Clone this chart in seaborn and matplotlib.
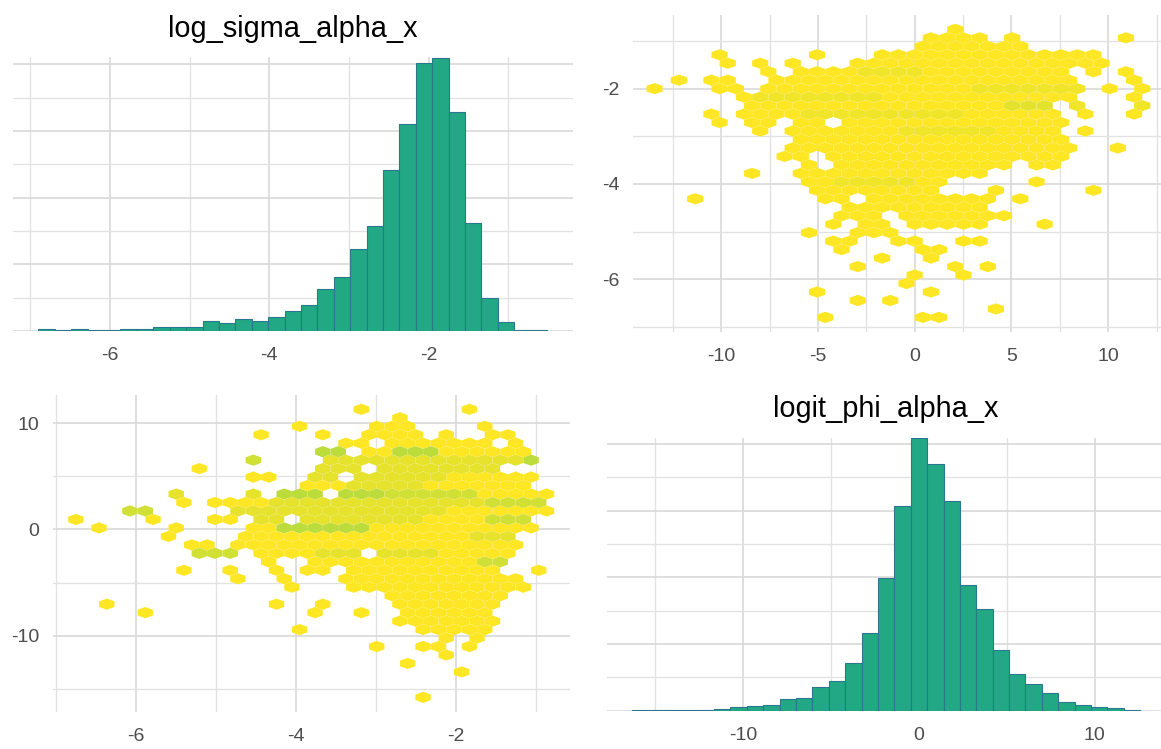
import numpy as np
import pandas as pd
import matplotlib
matplotlib.use("Agg")
import matplotlib.pyplot as plt
import seaborn as sns
from matplotlib.colors import LinearSegmentedColormap
from matplotlib.ticker import FixedLocator, NullFormatter

# ---------------- data ----------------
# histogram of log_sigma_alpha_x : 31 bins
sigma_counts = [6, 2, 7, 3, 4, 7, 5, 13, 11, 11, 30, 23, 37, 30, 43, 61, 77, 125,
                161, 245, 316, 482, 622, 805, 820, 657, 325, 100, 27, 4, 2]
sigma_bin_start = -6.898
sigma_bin_width = 0.206

# histogram of logit_phi_alpha_x : 31 bins
phi_counts = [2, 1, 1, 3, 3, 6, 10, 14, 18, 36, 39, 72, 90, 144, 234, 399, 614,
              819, 740, 629, 377, 304, 183, 111, 81, 53, 25, 16, 10, 8, 1]
phi_bin_start = -16.33
phi_bin_width = 0.933

# hex cells, top-right panel (x = logit_phi, y = log_sigma)
# row index -> list of (first half-column, last half-column, fill level)
tr_rows = {
    34: [(5, 5, 1)],
    33: [(2, 8, 1), (12, 12, 1), (26, 26, 1)],
    32: [(1, 13, 1)],
    31: [(-24, -24, 1), (-12, -12, 1), (-4, 14, 1), (16, 22, 1)],
    30: [(-23, -23, 1), (-19, -19, 1), (-15, -15, 1), (-7, 23, 1)],
    29: [(-18, -18, 1), (-14, -8, 1), (-6, 0, 2), (2, 18, 1), (22, 22, 1), (26, 26, 1)],
    28: [(-29, -29, 1), (-25, -25, 1), (-23, -23, 1), (-17, 19, 1), (27, 27, 1)],
    27: [(-32, -32, 1), (-24, -24, 1), (-22, -22, 1), (-18, 6, 1), (8, 20, 2),
         (24, 24, 1), (28, 28, 1)],
    26: [(-21, -21, 1), (-19, -5, 2), (-3, 19, 1), (27, 27, 1)],
    25: [(-20, 10, 1), (12, 16, 3), (20, 20, 2), (28, 28, 2)],
    24: [(-25, -25, 1), (-21, -19, 1), (-17, -15, 1), (-13, 5, 2), (7, 17, 1),
         (21, 21, 1), (27, 27, 1)],
    23: [(-24, -24, 1), (-20, -18, 1), (-14, -12, 1), (-8, 18, 1)],
    22: [(-19, -19, 1), (-15, -3, 1), (-1, 9, 2), (11, 17, 1), (21, 21, 1)],
    21: [(-14, 18, 1)],
    20: [(-15, 19, 1), (25, 25, 1)],
    19: [(-16, -14, 1), (-10, 18, 1)],
    18: [(-13, -13, 1), (-9, 11, 1), (15, 17, 1)],
    17: [(-20, -20, 1), (-14, 8, 1)],
    16: [(-13, -11, 1), (-9, -1, 2), (1, 3, 1), (15, 15, 1)],
    15: [(-12, 2, 1), (10, 10, 1), (22, 22, 1)],
    14: [(-27, -27, 1), (-11, -9, 1), (-5, 9, 1), (13, 13, 1)],
    13: [(-8, 8, 1)],
    12: [(-9, -5, 1), (-1, 11, 1)],
    11: [(-10, -10, 1), (-6, -4, 1), (0, 8, 1), (16, 16, 1)],
    10: [(-13, -13, 1), (-7, -3, 1)],
    9: [(-10, -8, 1), (-2, 0, 1), (6, 8, 1)],
    8: [(-9, -9, 1), (1, 3, 1)],
    7: [(-4, -4, 1), (2, 2, 1)],
    6: [(-7, -7, 1), (5, 5, 1), (9, 9, 1)],
    5: [(0, 0, 1), (6, 6, 1)],
    4: [(-1, -1, 1)],
    3: [(-12, -12, 1), (2, 2, 1)],
    2: [(-7, -7, 1), (-3, -3, 1)],
    1: [(10, 10, 1)],
    0: [(-11, -11, 1), (1, 1, 1), (3, 3, 1)],
}

# hex cells, bottom-left panel (x = log_sigma, y = logit_phi)
bl_rows = {
    14: [(34, 34, 1), (48, 48, 1)],
    13: [(39, 39, 1)],
    12: [(26, 26, 1), (36, 40, 1), (50, 50, 1)],
    11: [(21, 21, 1), (29, 29, 1), (35, 41, 1), (45, 45, 1), (51, 53, 1)],
    10: [(32, 34, 1), (38, 50, 1), (54, 54, 1)],
    9: [(29, 31, 4), (35, 37, 1), (39, 43, 4), (45, 55, 1)],
    8: [(20, 20, 3), (30, 54, 2), (56, 56, 4)],
    7: [(13, 13, 1), (29, 33, 2), (37, 51, 2)],
    6: [(20, 22, 1), (28, 30, 2), (34, 44, 2), (46, 56, 1)],
    5: [(27, 31, 1), (33, 41, 2), (43, 55, 1)],
    4: [(10, 10, 2), (20, 20, 2), (24, 28, 4), (32, 36, 4), (38, 48, 3), (50, 56, 1), (58, 58, 1)],
    3: [(11, 11, 1), (15, 21, 1), (23, 49, 2), (51, 57, 3)],
    2: [(4, 6, 3), (18, 44, 2), (46, 58, 1)],
    1: [(-3, -3, 1), (7, 7, 1), (15, 17, 1), (21, 23, 2), (27, 41, 2), (43, 49, 1), (51, 55, 3)],
    0: [(0, 0, 1), (10, 10, 1), (20, 22, 1), (24, 34, 4), (36, 56, 1)],
    -1: [(9, 9, 1), (19, 47, 1), (49, 53, 2)],
    -2: [(12, 14, 1), (18, 54, 1)],
    -3: [(13, 17, 3), (21, 27, 1), (29, 33, 2), (37, 43, 2), (45, 53, 1)],
    -4: [(22, 22, 1), (28, 48, 1), (50, 52, 3)],
    -5: [(11, 11, 1), (17, 17, 1), (23, 23, 1), (27, 29, 1), (33, 51, 1), (57, 57, 1)],
    -6: [(18, 18, 1), (24, 24, 1), (32, 54, 1)],
    -7: [(25, 25, 1), (33, 55, 1)],
    -8: [(38, 52, 1)],
    -9: [(1, 1, 1), (23, 23, 1), (29, 29, 1), (39, 51, 1)],
    -10: [(6, 6, 1), (28, 28, 1), (34, 34, 1), (40, 50, 1)],
    -11: [(39, 51, 1)],
    -12: [(26, 26, 1), (42, 42, 1), (44, 50, 1)],
    -13: [(45, 45, 1), (49, 49, 1)],
    -14: [(36, 36, 1), (42, 44, 1), (48, 48, 1)],
    -15: [(45, 45, 1)],
    -16: [(40, 40, 1)],
    -17: [(47, 47, 1)],
    -20: [(42, 42, 1)],
}

# hex lattice geometry (half-column step, row step)
tr_x0, tr_dx, tr_y0, tr_dy = 0.0, 0.42, -6.80, 0.177778
bl_x0, bl_dx, bl_y0, bl_dy = -6.46, 0.0965, 0.145, 0.7963

# ---------------- style ----------------
sns.set_theme(style="white")
plt.rcParams["font.family"] = ["Liberation Sans", "DejaVu Sans"]
plt.rcParams["axes.unicode_minus"] = False

W, H = 1161, 749
fig = plt.figure(figsize=(W / 100, H / 100), dpi=100)
fig.patch.set_facecolor("white")

TICK_COLOR = "#4D4D4D"
MAJ_COLOR, MIN_COLOR = "#D9D9D9", "#E2E2E2"
HIST_FILL, HIST_EDGE = "#22A884", "#2A788E"
hex_cmap = LinearSegmentedColormap.from_list("hexfill", ["#FDE725", "#7AD151"])
HEX_SEAM = (1.0, 1.0, 1.0, 0.12)


def px_axes(left, top, right, bottom):
    return fig.add_axes([left / W, 1 - bottom / H, (right - left) / W, (bottom - top) / H])


def style_axes(ax, xmaj, xmin, ymaj, ymin, ylabels=True):
    ax.set_facecolor("white")
    for s in ax.spines.values():
        s.set_visible(False)
    ax.xaxis.set_major_locator(FixedLocator(xmaj))
    ax.xaxis.set_minor_locator(FixedLocator(xmin))
    ax.yaxis.set_major_locator(FixedLocator(ymaj))
    ax.yaxis.set_minor_locator(FixedLocator(ymin))
    ax.set_xticklabels([f"{v:g}" for v in xmaj])
    if ylabels:
        ax.set_yticklabels([f"{v:g}" for v in ymaj])
    else:
        ax.yaxis.set_major_formatter(NullFormatter())
    ax.xaxis.set_minor_formatter(NullFormatter())
    ax.yaxis.set_minor_formatter(NullFormatter())
    ax.grid(True, which="major", color=MAJ_COLOR, linewidth=1.2)
    ax.grid(True, which="minor", color=MIN_COLOR, linewidth=0.95)
    ax.set_axisbelow(True)
    ax.tick_params(axis="both", which="both", length=0, labelsize=14, labelcolor=TICK_COLOR)
    ax.tick_params(axis="x", pad=11.5)
    ax.tick_params(axis="y", pad=9.5)
    ax.set_xlabel("")
    ax.set_ylabel("")


def expand_cells(rows, x0, dx, y0, dy):
    xs, ys, lv = [], [], []
    for r, segs in rows.items():
        for c0, c1, lev in segs:
            for c in range(c0, c1 + 1, 2):
                xs.append(x0 + c * dx)
                ys.append(y0 + r * dy)
                lv.append(lev)
    return np.array(xs), np.array(ys), np.array(lv, dtype=float)


def draw_hist(ax, counts, start, width):
    n = len(counts)
    edges = [start + width * i for i in range(n + 1)]
    centers = [0.5 * (edges[i] + edges[i + 1]) for i in range(n)]
    df = pd.DataFrame({"value": centers, "count": [float(c) for c in counts]})
    sns.histplot(data=df, x="value", weights="count", bins=edges, ax=ax, color=HIST_FILL,
                 edgecolor=HIST_EDGE, linewidth=0.8, alpha=1.0, zorder=2)


# ---------------- top-left: histogram log_sigma ----------------
ax_tl = px_axes(13, 57, 572.5, 331)
draw_hist(ax_tl, sigma_counts, sigma_bin_start, sigma_bin_width)
style_axes(ax_tl, [-6, -4, -2], [-7, -5, -3, -1], [0, 200, 400, 600, 800],
           [100, 300, 500, 700], ylabels=False)
ax_tl.set_xlim(-7.217, -0.193)
ax_tl.set_ylim(0, 822)
ax_tl.set_title("log_sigma_alpha_x", fontsize=20.8, color="black", pad=14.6)

# ---------------- top-right: hex logit_phi vs log_sigma ----------------
ax_tr = px_axes(632.7, 15, 1166.6, 331.7)
x, y, lv = expand_cells(tr_rows, tr_x0, tr_dx, tr_y0, tr_dy)
sx, sy = 2 * tr_dx, 2 * tr_dy
xmin_e = tr_x0 + tr_dx - 18 * sx
ymin_e = tr_y0 - sy
ax_tr.hexbin(x, y, C=lv, reduce_C_function=np.max, gridsize=(33, 19),
             extent=(xmin_e, xmin_e + 33 * sx, ymin_e, ymin_e + 19 * sy),
             cmap=hex_cmap, vmin=1, vmax=11, linewidths=0.25, edgecolors=HEX_SEAM, zorder=2)
style_axes(ax_tr, [-10, -5, 0, 5, 10], [-12.5, -7.5, -2.5, 2.5, 7.5, 12.5],
           [-6, -4, -2], [-7, -5, -3, -1])
ax_tr.set_xlim(-14.57, 13.02)
ax_tr.set_ylim(-7.10, -0.454)

# ---------------- bottom-left: hex log_sigma vs logit_phi ----------------
ax_bl = px_axes(52.7, 395, 570, 711.7)
x, y, lv = expand_cells(bl_rows, bl_x0, bl_dx, bl_y0, bl_dy)
sx, sy = 2 * bl_dx, 2 * bl_dy
xmin_e = bl_x0 - 2 * sx
ymin_e = bl_y0 - 22 * bl_dy
ax_bl.hexbin(x, y, C=lv, reduce_C_function=np.max, gridsize=(32, 19),
             extent=(xmin_e, xmin_e + 32 * sx, ymin_e, ymin_e + 19 * sy),
             cmap=hex_cmap, vmin=1, vmax=7, linewidths=0.25, edgecolors=HEX_SEAM, zorder=2)
style_axes(ax_bl, [-6, -4, -2], [-7, -5, -3, -1], [-10, 0, 10], [-15, -5, 5])
ax_bl.set_xlim(-7.04, -0.569)
ax_bl.set_ylim(-17.13, 12.64)

# ---------------- bottom-right: histogram logit_phi ----------------
ax_br = px_axes(606.5, 437.7, 1165.7, 710.7)
draw_hist(ax_br, phi_counts, phi_bin_start, phi_bin_width)
style_axes(ax_br, [-10, 0, 10], [-15, -5, 5], [0, 200, 400, 600, 800],
           [100, 300, 500, 700], ylabels=False)
ax_br.set_xlim(-17.78, 14.04)
ax_br.set_ylim(0, 819)
ax_br.set_title("logit_phi_alpha_x", fontsize=20.8, color="black", pad=14.6)

fig.savefig("out.png", dpi=100, facecolor="white")
